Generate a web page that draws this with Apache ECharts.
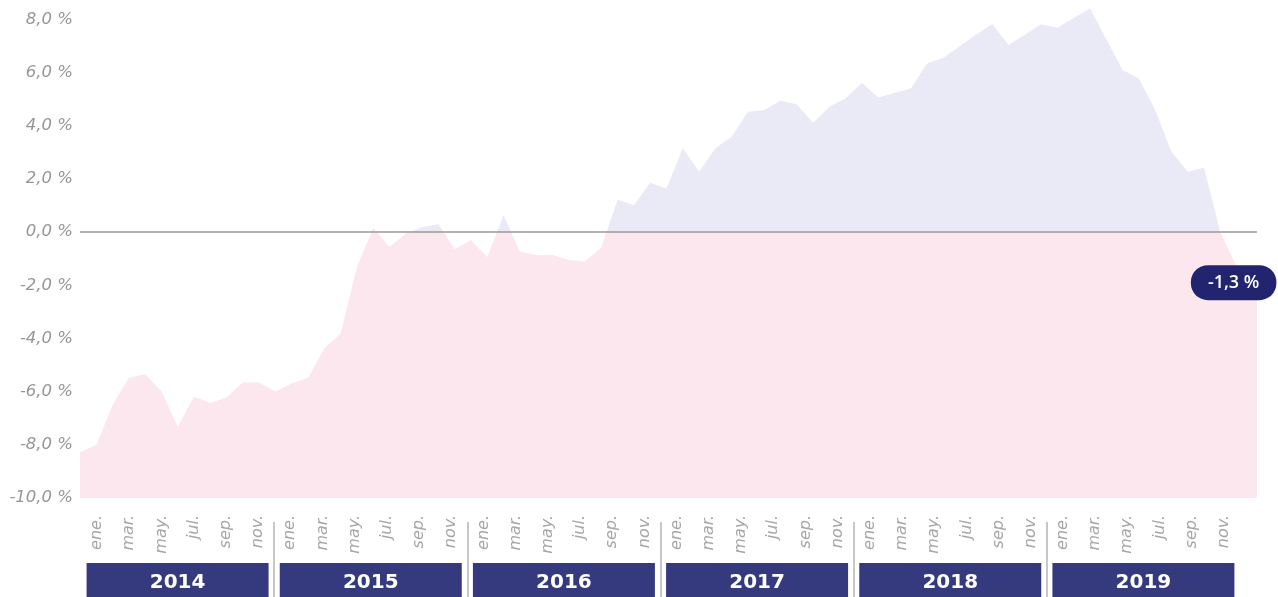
<!DOCTYPE html>
<html>
<head>
<meta charset="utf-8">
<script src="https://cdn.jsdelivr.net/npm/echarts@6/dist/echarts.min.js"></script>
<style>
  html, body { margin: 0; padding: 0; background: #fff; }
  #chart { width: 1278px; height: 597px; }
</style>
</head>
<body>
<div id="chart"></div>
<script>
const years = ['2014', '2015', '2016', '2017', '2018', '2019']
const monthNames = ['ene.', 'feb.', 'mar.', 'abr.', 'may.', 'jun.', 'jul.', 'ago.', 'sep.', 'oct.', 'nov.', 'dic.']
const shownMonths = ['ene.', 'mar.', 'may.', 'jul.', 'sep.', 'nov.']
// variación mensual, ene. 2014 - dic. 2019 (%)
const values = [
  -8.28, -8.01, -6.50, -5.48, -5.35, -6.00, -7.32, -6.19, -6.43, -6.21, -5.66, -5.66,
  -6.00, -5.69, -5.48, -4.37, -3.81, -1.30, 0.14, -0.55, -0.05, 0.18, 0.30, -0.64,
  -0.30, -0.95, 0.64, -0.74, -0.86, -0.86, -1.05, -1.11, -0.58, 1.22, 1.01, 1.85,
  1.64, 3.15, 2.27, 3.15, 3.58, 4.52, 4.59, 4.94, 4.81, 4.11, 4.71, 5.03,
  5.61, 5.06, 5.23, 5.40, 6.34, 6.55, 6.99, 7.43, 7.82, 7.03, 7.42, 7.81,
  7.68, 8.05, 8.41, 7.25, 6.09, 5.77, 4.59, 3.02, 2.27, 2.42, -0.01, -1.30
]

const PINK = '#fce7ee'
const LAVENDER = '#eaeaf6'
const NAVY = '#353a7e'
const BADGE = '#222470'

const fmtPct = (v) => v.toFixed(1).replace('.', ',') + ' %'

const yMin = -10
const yMax = 8.5
const xMax = 72.25
const lastIdx = values.length - 1
// la serie se prolonga con el último valor hasta el borde del gráfico
const seriesData = values.map((v, i) => [i, v])
seriesData.push([xMax, values[lastIdx]])

// eje de meses: dic. 2013 + los 72 meses
let axisMonths = ['dic.']
years.forEach(() => { axisMonths = axisMonths.concat(monthNames) })

const chart = echarts.init(document.getElementById('chart'))

const option = {
  animation: false,
  grid: [
    { left: 80, right: 21, top: 6, bottom: 99 },
    { left: 81, right: 38, top: 420, bottom: 89 },
    { left: 81, right: 38, top: 522, bottom: 0 },
    { left: 81, right: 38, top: 563, bottom: 0 },
  ],
  xAxis: [
    { gridIndex: 0, type: 'value', min: 0, max: xMax, show: false },
    {
      gridIndex: 1,
      type: 'category',
      data: axisMonths,
      boundaryGap: false,
      axisLine: { show: false },
      axisTick: { show: false },
      axisLabel: {
        rotate: 90,
        margin: 7,
        interval: (i, v) => i > 0 && shownMonths.includes(v),
        fontFamily: 'DejaVu Sans',
        fontStyle: 'italic',
        fontSize: 16,
        color: '#a6a6a6',
      },
    },
    {
      gridIndex: 2,
      type: 'category',
      data: years,
      axisLine: { show: false },
      axisTick: { show: false },
      axisLabel: { show: false },
      splitLine: {
        show: true,
        showMinLine: false,
        showMaxLine: false,
        lineStyle: { color: '#b5b5b5', width: 1.5 },
      },
    },
    { gridIndex: 3, type: 'category', data: years, show: false },
  ],
  yAxis: [
    {
      gridIndex: 0,
      type: 'value',
      min: yMin,
      max: yMax,
      interval: 2,
      axisLine: { show: false },
      axisTick: { show: false },
      splitLine: { show: false },
      axisLabel: {
        showMaxLabel: false,
        margin: 7,
        padding: [3, 0, 0, 0],
        formatter: fmtPct,
        fontFamily: 'DejaVu Sans',
        fontStyle: 'italic',
        fontSize: 16.5,
        color: '#969696',
      },
    },
    { gridIndex: 1, type: 'value', show: false },
    { gridIndex: 2, type: 'value', show: false },
    { gridIndex: 3, type: 'value', min: 0, max: 1, show: false },
  ],
  visualMap: {
    show: false,
    type: 'piecewise',
    seriesIndex: 0,
    dimension: 1,
    pieces: [
      { gte: yMin, lt: 0, color: PINK },
      { gte: 0, lte: yMax, color: LAVENDER },
    ],
    outOfRange: { color: PINK },
  },
  series: [
    {
      type: 'line',
      xAxisIndex: 0,
      yAxisIndex: 0,
      data: seriesData,
      showSymbol: false,
      lineStyle: { width: 0, opacity: 0 },
      areaStyle: { origin: 'start', opacity: 1 },
      markLine: {
        silent: true,
        symbol: 'none',
        label: { show: false },
        lineStyle: { color: '#9a9a9a', width: 1.5, type: 'solid' },
        data: [{ yAxis: 0 }],
      },
      markPoint: {
        silent: true,
        symbol: 'circle',
        symbolSize: 1,
        itemStyle: { color: 'rgba(0,0,0,0)' },
        label: {
          show: true,
          position: 'inside',
          offset: [-3, 16],
          formatter: () => fmtPct(values[lastIdx]),
          backgroundColor: BADGE,
          borderRadius: 17,
          padding: [9, 17, 8, 17],
          lineHeight: 18,
          color: '#fff',
          fontSize: 18,
          fontWeight: 600,
          fontFamily: 'Open Sans',
        },
        data: [{ coord: [lastIdx, values[lastIdx]] }],
      },
    },
    {
      type: 'bar',
      xAxisIndex: 3,
      yAxisIndex: 3,
      data: years.map(() => 1),
      barWidth: 182,
      silent: true,
      itemStyle: { color: NAVY },
      label: {
        show: true,
        position: 'inside',
        offset: [0, 3],
        formatter: '{b}',
        color: '#fff',
        fontSize: 20,
        fontWeight: 'bold',
        fontFamily: 'DejaVu Sans',
      },
    },
  ],
}

chart.setOption(option)
</script>
</body>
</html>
